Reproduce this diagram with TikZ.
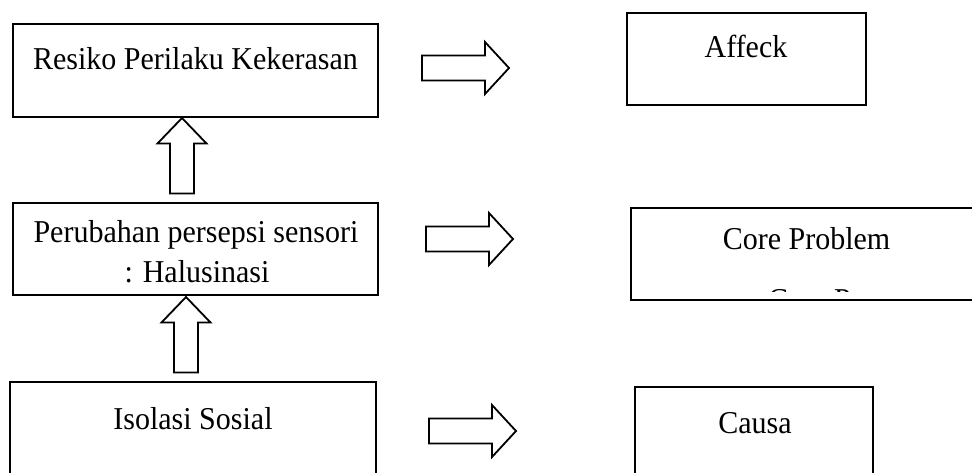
\documentclass[tikz,border=0pt]{standalone}
\usepackage{fontspec}
\usepackage{graphicx}
\setmainfont{Liberation Serif}
\newcommand{\vtall}[1]{\scalebox{1}[1.06]{#1}}
\begin{document}
\begin{tikzpicture}[x=1pt,y=-1pt,
  box/.style={draw, line width=2pt, inner sep=0pt},
  lbl/.style={font=\fontsize{30}{39}\selectfont, anchor=base, inner sep=0pt},
  arr/.style={draw, line width=1.8pt, line join=miter, fill=white},
  rarr/.pic={\path[arr] (0,-12.5) -- (63,-12.5) -- (63,-26) -- (87,0) -- (63,26) -- (63,12.5) -- (0,12.5) -- cycle;},
  uarr/.pic={\path[arr] (0,0) -- (24.5,25.5) -- (12,25.5) -- (12,75.5) -- (-12,75.5) -- (-12,25.5) -- (-24.5,25.5) -- cycle;},
]
\path[use as bounding box] (0,0) rectangle (972,473);
\clip (0,0) rectangle (972,473);
% boxes
\node[box, minimum width=365pt, minimum height=93pt] (b1) at (195.5,70.5) {};
\node[box, minimum width=365pt, minimum height=92pt] (b2) at (195.5,249) {};
\node[box, minimum width=366pt, minimum height=138pt] (b3) at (193,451) {};
\node[box, minimum width=239pt, minimum height=92pt] (aff) at (746.5,59) {};
\node[box, minimum width=369pt, minimum height=92pt] (core) at (815.5,254) {};
\node[box, minimum width=238pt, minimum height=133pt] (cau) at (754,453.5) {};
% texts
\node[lbl] (t1) at (195.5,70) {\vtall{Resiko Perilaku Kekerasan}};
\node[lbl] (t2a) at (196,243) {\vtall{Perubahan persepsi sensori}};
\node[lbl] (t2b) at (197,282) {\vtall{: Halusinasi}};
\node[lbl] (t3) at (193,429) {\vtall{Isolasi Sosial}};
\node[lbl] (ta) at (746,58) {\vtall{Affeck}};
\node[lbl] (tc) at (806.5,250) {\vtall{Core Problem}};
\node[lbl] (tca) at (755,433) {\vtall{Causa}};
\begin{scope}
\clip (633,210) rectangle (970,291);
\node[lbl, anchor=base west] (tc2) at (768,310) {\vtall{Core P}};
\end{scope}
% up arrows (tip touching the upper box)
\pic at ([xshift=-13.5pt]b1.south) {uarr};
\pic at ([xshift=-9.5pt,yshift=-1pt]b2.south) {uarr};
% right arrows
\coordinate (r1) at (422,68);
\coordinate (r2) at (426,239);
\coordinate (r3) at (429,431);
\pic at (r1) {rarr};
\pic at (r2) {rarr};
\pic at (r3) {rarr};
\end{tikzpicture}
\end{document}
